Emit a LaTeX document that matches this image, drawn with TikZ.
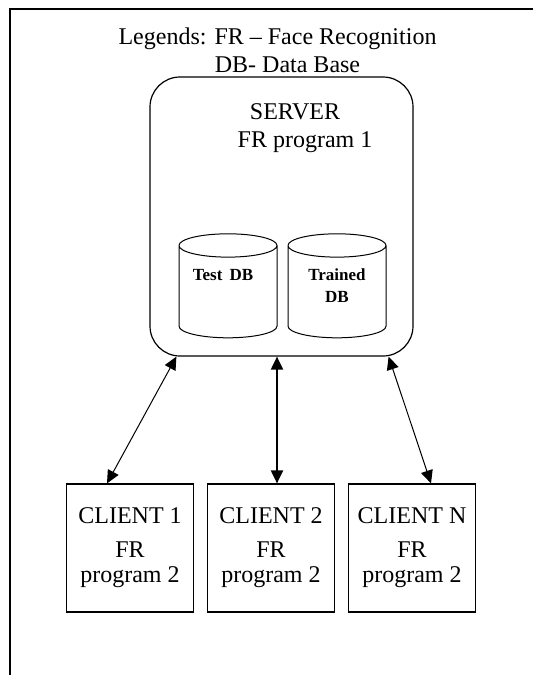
\documentclass[tikz,border=0pt]{standalone}
\usepackage{fontspec}
\setmainfont{Liberation Serif}
\usetikzlibrary{arrows.meta,shapes.geometric}
\tikzstyle{client box}=[
        draw,
        line width = 1.2pt,
        minimum width = 127pt,
        minimum height = 128pt,
        align = center,
        font = \fontsize{24}{25}\selectfont
    ]
\tikzstyle{server box}=[
        draw,
        line width = 1.2pt,
        rounded corners = 30pt,
        minimum width = 263pt,
        minimum height = 279pt
    ]
\tikzstyle{db}=[
        draw,
        line width = 1pt,
        cylinder,
        shape border rotate = 90,
        aspect = 3.5,
        minimum width = 98pt,
        minimum height = 104pt
    ]
\tikzstyle{db text}=[align = center, font = \fontsize{17}{22}\selectfont\bfseries]
\tikzstyle{big text}=[align = center, font = \fontsize{24}{28}\selectfont]
\tikzstyle{link}=[{Triangle[length=13pt,width=12pt]}-{Triangle[length=13pt,width=12pt]}, line width = 1pt]

\begin{document}
\begin{tikzpicture}[x=1pt, y=1pt, node distance={141pt}]
        \useasboundingbox (0,0) rectangle (533,-675);
        \draw[line width = 1.5pt] (10,-675) |- (533,-9);

        \node[big text] (legend) at (277.5,-50.5) {Legends: FR -- Face Recognition\\\hspace*{20pt}DB- Data Base};
        \node[server box] (server) at (281.5,-216.5) {};
        \node[big text] (title) at (295,-128) {SERVER\\\hspace*{20pt}FR program 1};

        \node[db] (tdb) at (228,-294) {};
        \node[db] (trdb) [right of = tdb, node distance = 109pt] {};
        \node[db text] (tdbtext) at (223,-275) {Test\, DB};
        \node[db text] (trdbtext) at (337,-286) {Trained\\DB};

        \node[client box] (c2) at (271,-548) {CLIENT 2\\[9pt]FR\\program 2};
        \node[client box] (c1) [left of = c2] {CLIENT 1\\[9pt]FR\\program 2};
        \node[client box] (cn) [right of = c2] {CLIENT N\\[9pt]FR\\program 2};

        \draw[link] ([xshift=27pt]server.south west) -- ([xshift=-23pt]c1.north);
        \draw[link, line width = 2pt] ([xshift=6pt]c2.north |- server.south) -- ([xshift=6pt]c2.north);
        \draw[link] ([xshift=-25pt]server.south east) -- ([xshift=19pt]cn.north);
    \end{tikzpicture}
\end{document}
